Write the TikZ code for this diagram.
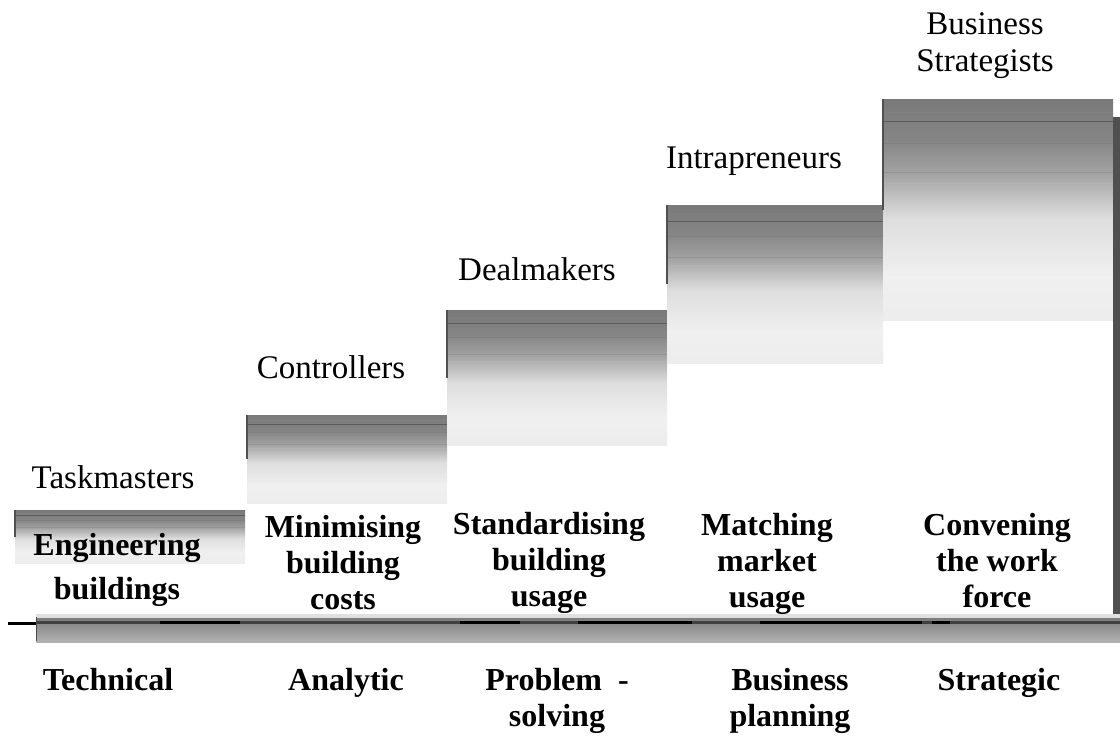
\documentclass[tikz,border=0pt]{standalone}
\usepackage{fontspec}
\setmainfont{Liberation Serif}
\usepackage{tikz}
\usetikzlibrary{positioning}
\definecolor{edgegray}{RGB}{80, 80, 80}

% fade used on the top of every step (0bp = bottom, 100bp = top)
\pgfdeclareverticalshading{stepfade}{100bp}{color(0bp)=(black!2); color(18bp)=(black!8);
  color(35bp)=(black!6); color(48bp)=(black!13); color(58bp)=(black!36);
  color(66bp)=(black!48); color(80bp)=(black!55); color(100bp)=(black!58)}

\tikzset{
  role/.style={inner sep=0pt, anchor=north, align=center, font=\fontsize{33}{37}\selectfont},
  task/.style={inner sep=0pt, anchor=north, align=center, font=\fontsize{32}{36}\selectfont\bfseries},
  skill/.style={task}
}

\begin{document}
\begin{tikzpicture}[x=1pt, y=-1pt]
    \useasboundingbox (0,0) rectangle (1120,736);

    % steps: left, right, top, end of the shaded band
    \foreach \l/\r/\t/\b in {15/245/510/563, 247/447/415/503, 447/667/310/445,
                             667/883/205/363, 883/1113/99/320} {
        \shade[shading=stepfade] (\l,\t) rectangle (\r,\b);
        % fine streaks across the dark part of the band
        \foreach \f/\c in {0.06/black!50, 0.1/black!64, 0.2/black!50, 0.33/black!42, 0.38/black!30}
            \draw[\c, line width=0.6pt] (\l,{\t+\f*(\b-\t)}) -- (\r,{\t+\f*(\b-\t)});
        \draw[edgegray, line width=1.5pt] (\l,\t) -- (\l,{\t+0.5*(\b-\t)});
    }
    % dark edge down the right side
    \fill[edgegray] (1113,117) rectangle (1120,622);

    % ground bar
    \shade[top color=black!55, bottom color=black!30] (36,614) rectangle (1120,642);
    \fill[black!12] (36,614) rectangle (1120,618);
    \draw[black!75, line width=3pt] (36,622) -- (1120,622);
    \foreach \a/\z in {160/240, 460/520, 578/692, 760/922, 932/950}
        \draw[black, line width=3pt] (\a,622) -- (\z,622);
    \draw[black, line width=3pt] (8,623) -- (36,623);
    \draw[black!70, line width=1pt] (36,617) -- (36,641);

    % who sits on each step
    \node[role] (taskmasters) at (113,465) {Taskmasters};
    \node[role] (controllers) at (331,355) {Controllers};
    \node[role] (dealmakers) at (537,257) {Dealmakers};
    \node[role] (intrapreneurs) at (754,147) {Intrapreneurs};
    \node[role] (strategists) at (985,12) {Business\\Strategists};

    % what they focus on
    \node[task] (engineering) at (117,533) {Engineering\\[8pt]buildings};
    \node[task] (minimising) at (343,515) {Minimising\\building\\costs};
    \node[task] (standardising) at (549,512) {Standardising\\building\\usage};
    \node[task] (matching) at (767,513) {Matching\\market\\usage};
    \node[task] (convening) at (997,513) {Convening\\the work\\force};

    % skills under the bar
    \node[skill] (technical) at (108,668) {Technical};
    \node[skill] (analytic) at (346,668) {Analytic};
    \node[skill] (problem) at (557,668) {Problem\ \ -\\solving};
    \node[skill] (business) at (790,668) {Business\\planning};
    \node[skill] (strategic) at (999,668) {Strategic};
\end{tikzpicture}
\end{document}
